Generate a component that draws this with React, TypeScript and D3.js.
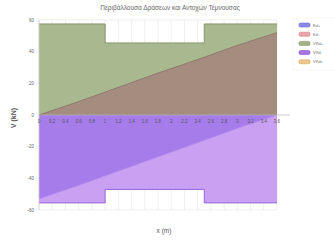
import React from 'react';
import * as d3 from 'd3';

// step envelope of resistances
const xStep = [0, 1.0, 1.0, 2.5, 2.5, 3.6];
const vrdPlus = [57.5, 57.5, 45.5, 45.5, 57.5, 57.5];
const vrdMinus = [-55.5, -55.5, -47, -47, -55.5, -55.5];

// design actions
const xEd = [0, 0.6, 1.2, 1.8, 2.4, 3.0, 3.6];
const edPlus = [0, 8.5, 17.5, 26.5, 35, 44, 52];
const edMinus = [-53, -44.5, -35.5, -26.5, -17.5, -8.5, 0];

const xTickLabels = ['0', '0.2', '0.4', '0.6', '0.8', '1', '1.2', '1.4', '1.6', '1.8', '2', '2.2', '2.4', '2.6', '2.8', '3', '3.2', '3.4', '3.6'];
const yTicks = [60, 40, 20, 0, -20, -40, -60];

const legendLabels = ['Ed+', 'Ed-', 'VRd+', 'VRd-', 'VRdc'];
const legendFill = ['#8c8ce6', '#eaa4ac', '#a4b08a', '#a874e8', '#ecc88a'];
const legendStroke = ['#6c6cd0', '#d8808c', '#86946a', '#8c58d4', '#d8a860'];

const W = 334;
const H = 247;
const left = 39;
const right = 277;
const top = 20;
const bottom = 210;

export default function App() {
  const x = d3.scaleLinear().domain([0, 3.6]).range([left, right]);
  const y = d3.scaleLinear().domain([-60, 60]).range([bottom, top]);

  const area = d3.area<number>()
    .x((d, i) => x(xStep[i]))
    .y0(y(0))
    .y1(d => y(d));
  const line = d3.line<number>()
    .x((d, i) => x(xStep[i]))
    .y(d => y(d));
  const areaEd = d3.area<number>()
    .x((d, i) => x(xEd[i]))
    .y0(y(0))
    .y1(d => y(d));
  const lineEd = d3.line<number>()
    .x((d, i) => x(xEd[i]))
    .y(d => y(d));

  const font = '"Liberation Sans", Arial, sans-serif';

  return (
    <svg width={W} height={H} style={{ position: 'absolute', left: 0, top: 0, background: '#fff' }}>
      <text x={170} y={10} textAnchor="middle" fontSize={6.5} fill="#666" fontFamily={font}>
        Περιβάλλουσα Δράσεων και Αντοχών Τέμνουσας
      </text>

      {/* grid */}
      {xTickLabels.map(t => (
        <line key={'gx' + t} x1={x(+t)} x2={x(+t)} y1={top} y2={bottom} stroke="#e6e6e6" strokeWidth={0.6} />
      ))}
      {yTicks.map(t => (
        <line key={'gy' + t} x1={left - 3} x2={right} y1={y(t)} y2={y(t)} stroke="#e2e2e2" strokeWidth={0.6} />
      ))}

      {/* fills */}
      <path d={area(vrdPlus) || ''} fill="#a9b98f" />
      <path d={area(vrdMinus) || ''} fill="#c9a0f2" />
      <path d={areaEd(edPlus) || ''} fill="#a06070" fillOpacity={0.5} />
      <path d={areaEd(edMinus) || ''} fill="#7a50e0" fillOpacity={0.45} />

      <path d={line(vrdPlus) || ''} fill="none" stroke="#86946a" strokeWidth={1} />
      <path d={line(vrdMinus) || ''} fill="none" stroke="#9562dc" strokeWidth={1} />
      <path d={lineEd(edPlus) || ''} fill="none" stroke="#8c7068" strokeWidth={0.8} />
      <path d={lineEd(edMinus) || ''} fill="none" stroke="#b890f0" strokeWidth={0.8} />

      {/* axes */}
      <line x1={left} x2={left} y1={top} y2={bottom} stroke="#cfcfcf" strokeWidth={0.7} />
      <line x1={left} x2={290} y1={y(0)} y2={y(0)} stroke="#b8b8b8" strokeWidth={0.7} />

      {yTicks.map(t => (
        <text key={'ty' + t} x={34} y={y(t) + 1.6} textAnchor="end" fontSize={4.5} fill="#666" fontFamily={font}>
          {t}
        </text>
      ))}
      {xTickLabels.map(t => (
        <text key={'tx' + t} x={x(+t)} y={y(0) + 8} textAnchor="middle" fontSize={4.5} fill="#555" fontFamily={font}>
          {t}
        </text>
      ))}

      <text transform={`translate(16,118) rotate(-90)`} textAnchor="middle" fontSize={7} fontWeight="bold" fill="#555" fontFamily={font}>
        V (kN)
      </text>
      <text x={164} y={233} textAnchor="middle" fontSize={6.5} fill="#555" fontFamily={font}>
        x (m)
      </text>

      {/* legend */}
      <rect x={293} y={18} width={44} height={52} fill="none" stroke="#f0f0f0" strokeWidth={0.6} />
      {legendLabels.map((l, i) => (
        <g key={l} transform={`translate(299, ${23 + i * 9.2})`}>
          <rect width={11} height={4} rx={1.5} fill={legendFill[i]} stroke={legendStroke[i]} strokeWidth={0.6} />
          <text x={14} y={3.6} fontSize={4} fill="#777" fontFamily={font}>{l}</text>
        </g>
      ))}
    </svg>
  );
}
